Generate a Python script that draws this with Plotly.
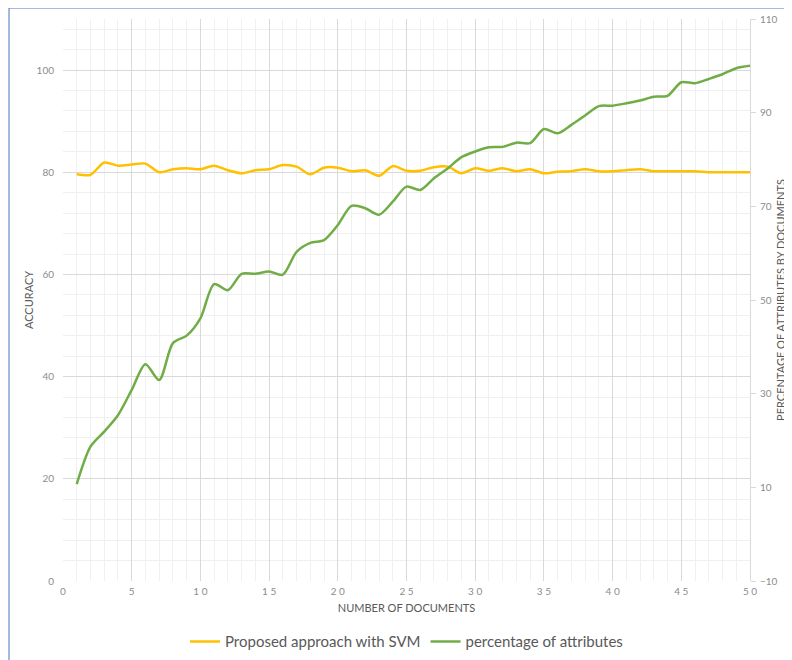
import plotly.graph_objects as go

docs = list(range(1, 51))
accuracy_svm = [79.6, 79.5, 81.9, 81.3, 81.5, 81.7, 80.0, 80.6, 80.8, 80.6,
                81.3, 80.4, 79.8, 80.4, 80.6, 81.4, 81.1, 79.6, 80.9, 80.9,
                80.2, 80.4, 79.3, 81.2, 80.3, 80.3, 81.0, 81.1, 79.8, 80.8,
                80.3, 80.8, 80.2, 80.6, 79.8, 80.1, 80.2, 80.6, 80.2, 80.2,
                80.4, 80.6, 80.2, 80.2, 80.2, 80.2, 80.0, 80.0, 80.0, 80.0]
pct_attributes = [10.7, 18.7, 21.9, 25.4, 30.8, 36.3, 32.9, 40.8, 42.4, 46.1,
                  53.4, 52.1, 55.6, 55.6, 56.1, 55.4, 60.3, 62.2, 62.8, 66.0,
                  70.1, 69.6, 68.2, 71.0, 74.2, 73.5, 76.0, 78.1, 80.5, 81.7,
                  82.6, 82.7, 83.6, 83.5, 86.5, 85.6, 87.4, 89.4, 91.4, 91.5,
                  92.0, 92.6, 93.4, 93.6, 96.5, 96.3, 97.2, 98.2, 99.5, 100.0]

left_ticks = [0, 20, 40, 60, 80, 100]
right_ticks = [-10, 10, 30, 50, 70, 90, 110]
x_ticks = [0, 5, 10, 15, 20, 25, 30, 35, 40, 45, 50]

FONT = "Lato, 'Liberation Sans', sans-serif"
TICK = dict(family=FONT, size=10, color="#8c8c8c")
TITLE = dict(family=FONT, size=11, color="#595959")

fig = go.Figure()
fig.add_trace(go.Scatter(x=docs, y=accuracy_svm, name="Proposed approach with SVM",
                         mode="lines", line=dict(color="#FFC000", width=2.5, shape="spline", smoothing=0.8),
                         yaxis="y"))
fig.add_trace(go.Scatter(x=docs, y=pct_attributes, name="percentage of attributes",
                         mode="lines", line=dict(color="#70AD47", width=2.5, shape="spline", smoothing=0.8),
                         yaxis="y2"))

fig.update_layout(
    width=784, height=652,
    margin=dict(l=55, r=42, t=11, b=79, autoexpand=False),
    paper_bgcolor="white", plot_bgcolor="white",
    font=dict(family=FONT),
    xaxis=dict(range=[0, 50], tickvals=x_ticks, ticktext=[" ".join(str(v)) for v in x_ticks],
               tickfont=TICK, showgrid=True, gridcolor="#d9d9d9", gridwidth=1,
               zeroline=False, showline=False, ticks="", automargin=False,
               ticklabelstandoff=3,
               minor=dict(dtick=1, tick0=0, showgrid=True, gridcolor="#f0f0f0", gridwidth=1),
               title=dict(text="NUMBER OF DOCUMENTS", font=TITLE, standoff=8)),
    yaxis=dict(range=[0, 110], tickvals=left_ticks, tickfont=TICK,
               showgrid=True, gridcolor="#d9d9d9", gridwidth=1, zeroline=False,
               showline=False, ticks="", automargin=False, ticklabelstandoff=8,
               minor=dict(dtick=4, tick0=0, showgrid=True, gridcolor="#f0f0f0", gridwidth=1),
               title=dict(text="ACCURACY", font=TITLE, standoff=0)),
    yaxis2=dict(range=[-10, 110], tickvals=right_ticks, tickfont=TICK,
                overlaying="y", side="right", showgrid=False, zeroline=False,
                showline=True, linecolor="#d9d9d9", linewidth=1, automargin=False,
                ticks="outside", ticklen=5, tickcolor="#d9d9d9", ticklabelstandoff=2,
                title=dict(text="PERCENTAGE OF ATTRIBUTES BY DOCUMENTS", font=TITLE, standoff=0)),
    legend=dict(orientation="h", x=0.5, xanchor="center", y=-0.108, yanchor="middle",
                font=dict(family=FONT, size=15, color="#595959"), itemwidth=30,
                traceorder="normal"),
    showlegend=True,
    shapes=[
        dict(type="line", xref="paper", yref="paper", x0=-0.0786, x1=1.07, y0=1.0196, y1=1.0196,
             line=dict(color="#4472C4", width=1)),
        dict(type="line", xref="paper", yref="paper", x0=-0.0786, x1=-0.0786, y0=-0.15, y1=1.0196,
             line=dict(color="#4472C4", width=1)),
    ],
)

fig.write_html("out.html")
